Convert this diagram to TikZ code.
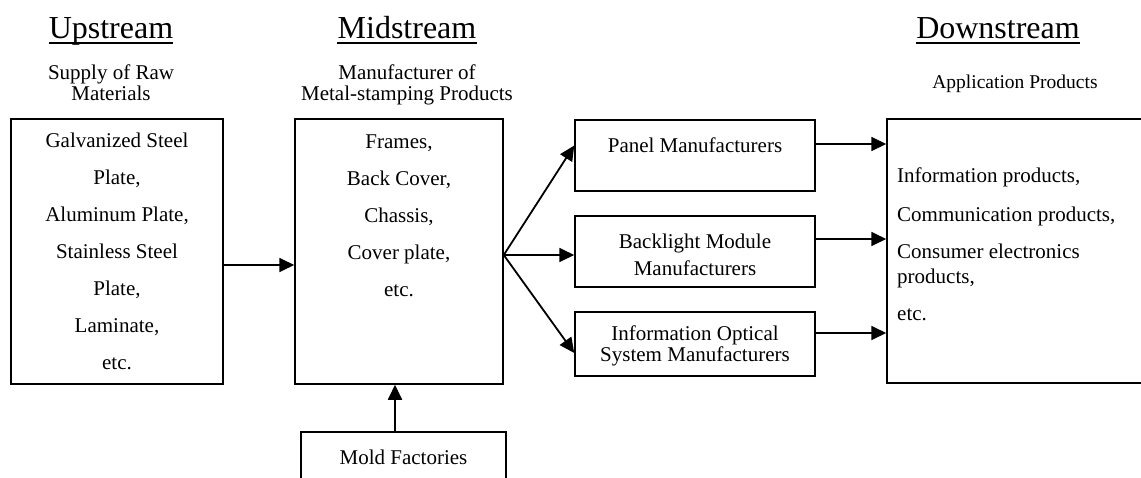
\documentclass[tikz,border=0pt]{standalone}
\usepackage{fontspec}
\setmainfont{Liberation Serif}
\usetikzlibrary{arrows.meta,positioning}

\tikzset{
  box/.style={rectangle, draw, line width=1.5pt, inner sep=0pt, align=center,
    font=\fontsize{21}{37}\selectfont},
  lbl/.style={inner sep=0pt, align=center, font=\fontsize{21}{21}\selectfont},
  head/.style={inner sep=0pt, font=\fontsize{32}{36}\selectfont},
  flow/.style={-{Triangle[length=15pt,width=14pt]}, line width=1.8pt},
}

\begin{document}
\begin{tikzpicture}[x=1pt, y=-1pt]
    \useasboundingbox (0,0) rectangle (1141,477);

    % column headings
    \node[head, anchor=base] (up) at (111,38) {Upstream};
    \node[head, anchor=base] (midh) at (407,38) {Midstream};
    \node[head, anchor=base] (downh) at (998,38) {Downstream};
    \foreach \h in {up,midh,downh}
        \draw[line width=1.5pt] ([yshift=-5pt]\h.base west) -- ([yshift=-5pt]\h.base east);

    \node[lbl, anchor=north] (rawlbl) at (111,65) {Supply of Raw\\Materials};
    \node[lbl, anchor=north] (midlbl) at (407,65) {Manufacturer of\\Metal-stamping Products};
    \node[lbl, anchor=base, font=\fontsize{19.5}{21}\selectfont] (applbl) at (1015,88) {Application Products};

    % boxes
    \node[box, minimum width=212, minimum height=265] (raw) at (117,251.5)
        {Galvanized Steel\\Plate,\\Aluminum Plate,\\Stainless Steel\\Plate,\\Laminate,\\etc.};
    \node[box, minimum width=208, minimum height=265] (mid) at (399,251.5) {};
    \node[lbl, anchor=north, font=\fontsize{21}{37}\selectfont] (midtxt) at (399,135)
        {Frames,\\Back Cover,\\Chassis,\\Cover plate,\\etc.};
    \node[box, minimum width=205, minimum height=50] (mold) at (403.5,457) {Mold Factories};

    \node[box, minimum width=240, minimum height=71] (panel) at (695,155.5) {};
    \node[lbl, anchor=base] (paneltxt) at (695,152) {Panel Manufacturers};
    \node[box, minimum width=240, minimum height=71] (back) at (695,251.5) {};
    \node[lbl, anchor=north, font=\fontsize{21}{27}\selectfont] (backtxt) at (695,234)
        {Backlight Module\\Manufacturers};
    \node[box, minimum width=240, minimum height=64] (info) at (695,344) {};
    \node[lbl, anchor=north] (infotxt) at (695,326)
        {Information Optical\\System Manufacturers};

    \node[box, minimum width=266, minimum height=264] (down) at (1020,251) {};
    \node[lbl, anchor=north west, align=left, font=\fontsize{21}{25}\selectfont] (downtxt) at (897,168)
        {Information products,\\[14pt]Communication products,\\[12pt]Consumer electronics\\products,\\[12pt]etc.};

    % connectors
    \coordinate (fan) at ([yshift=-3.5pt]mid.east);
    \draw[flow] ([yshift=-13.5pt]raw.east) -- ([yshift=-13.5pt]raw.east -| mid.west);
    \draw[flow] ([xshift=-8.5pt]mold.north) -- ([xshift=-8.5pt]mold.north |- mid.south);
    \draw[flow] (fan) -- ([yshift=10pt]panel.west);
    \draw[flow] (fan) -- ([yshift=-3.5pt]back.west);
    \draw[flow] (fan) -- ([yshift=-9pt]info.west);
    \draw[flow] ([yshift=11.5pt]panel.east) -- ([yshift=11.5pt]panel.east -| down.west);
    \draw[flow] ([yshift=12.5pt]back.east) -- ([yshift=12.5pt]back.east -| down.west);
    \draw[flow] ([yshift=11pt]info.east) -- ([yshift=11pt]info.east -| down.west);
\end{tikzpicture}
\end{document}
